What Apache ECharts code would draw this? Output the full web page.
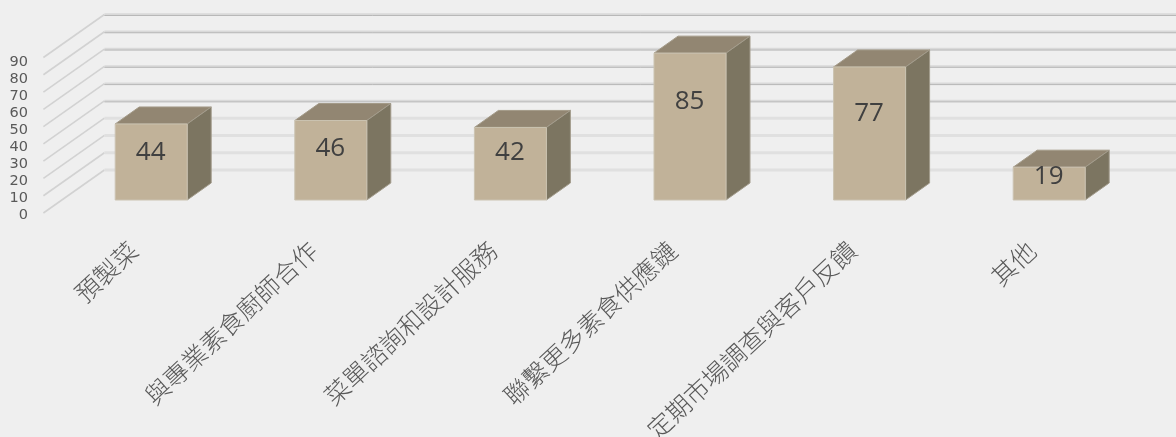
<!DOCTYPE html>
<html>
<head>
<meta charset="utf-8">
<style>html,body{margin:0;padding:0;background:#efefef}#chart{width:1176px;height:437px}</style>
<script src="https://cdn.jsdelivr.net/npm/echarts@6/dist/echarts.min.js"></script>
</head>
<body>
<div id="chart"></div>
<script>
// Category names and survey counts for the 3D column chart
var categories = ['預製菜', '與專業素食廚師合作', '菜單諮詢和設計服務', '聯繫更多素食供應鏈', '定期市場調查與客戶反饋', '其他'];
var values = [44, 46, 42, 85, 77, 19];
var yTicks = [0, 10, 20, 30, 40, 50, 60, 70, 80, 90];

// Pseudo-3D projection, in pixels
var DEPTH = [24, -17];
var WALL_FRONT = [-18, 13];
var WALL_BACK = [43, -30];
var BAR_WIDTH = 72;
var LABEL_RISE = [47, 51, 47, 98, 86, 23];

var chart = echarts.init(document.getElementById('chart'), null, {renderer: 'canvas'});

function renderWall(params, api) {
  var tick = api.value(0);
  var rect = params.coordSys;
  var y = api.coord([0, tick])[1];
  var x0 = rect.x + WALL_FRONT[0], y0 = y + WALL_FRONT[1];
  var x1 = rect.x + WALL_BACK[0], y1 = y + WALL_BACK[1];
  var strong = tick >= 40;
  var w = api.getWidth();
  var children = [
    {type: 'line', shape: {x1: x0, y1: y0, x2: x1, y2: y1},
      style: {stroke: '#d2d2d2', lineWidth: 1.6}},
    {type: 'line', shape: {x1: x1, y1: y1, x2: w, y2: y1},
      style: {stroke: strong ? '#d9d9d9' : '#e0e0e0', lineWidth: strong ? 2.4 : 3}}
  ];
  if (strong) {
    children.push({type: 'line', shape: {x1: x1, y1: y1 + 1, x2: w, y2: y1 + 1},
      style: {stroke: '#b8b8b8', lineWidth: 1}});
  }
  return {type: 'group', children: children};
}

function renderBar(params, api) {
  var i = api.value(0), v = api.value(1);
  var base = api.coord([i, 0]);
  var top = api.coord([i, v]);
  var l = base[0] - BAR_WIDTH / 2, r = base[0] + BAR_WIDTH / 2;
  var dx = DEPTH[0], dy = DEPTH[1];
  return {
    type: 'group',
    children: [
      {type: 'polygon', shape: {points: [[l, top[1]], [l + dx, top[1] + dy], [r + dx, top[1] + dy], [r, top[1]]]},
        style: {fill: '#928672', stroke: '#a39a88', lineWidth: 1}},
      {type: 'polygon', shape: {points: [[r, top[1]], [r + dx, top[1] + dy], [r + dx, base[1] + dy], [r, base[1]]]},
        style: {fill: '#7c7561', stroke: '#a39c8c', lineWidth: 1}},
      {type: 'rect', shape: {x: l, y: top[1], width: BAR_WIDTH, height: base[1] - top[1]},
        style: {fill: '#c1b299', stroke: '#cbc3b1', lineWidth: 1}},
      {type: 'text', style: {
        x: base[0] - 0.5, y: base[1] - LABEL_RISE[i], text: String(v),
        fill: '#404040', font: '26px "Open Sans"', align: 'center', verticalAlign: 'middle'
      }}
    ]
  };
}

chart.setOption({
  backgroundColor: '#efefef',
  animation: false,
  grid: [
    {left: 61.4, width: 1077.6, top: 44.5, height: 155.5, outerBoundsMode: 'none'},
    {left: 43, width: 1077.6, top: 62.3, height: 152.7, outerBoundsMode: 'none'}
  ],
  xAxis: [
    {type: 'category', gridIndex: 0, data: categories,
      axisLine: {show: false}, axisTick: {show: false},
      axisLabel: {rotate: 43, interval: 0, margin: 30, color: '#595959',
        padding: [0, 24, 0, 0],
        fontSize: 25, fontFamily: '"Noto Sans CJK TC"', fontWeight: 300}},
    {type: 'category', gridIndex: 1, data: categories, show: false}
  ],
  yAxis: [
    {type: 'value', gridIndex: 0, min: 0, max: 90, interval: 10, show: false},
    {type: 'value', gridIndex: 1, min: 0, max: 90, interval: 10,
      axisLine: {show: false}, axisTick: {show: false}, splitLine: {show: false},
      axisLabel: {color: '#595959', fontSize: 14.5, fontFamily: '"DejaVu Sans"', margin: 15}}
  ],
  series: [
    {type: 'custom', xAxisIndex: 0, yAxisIndex: 0, clip: false, z: 1,
      data: yTicks.map(function (t) { return [t]; }),
      encode: {y: 0}, renderItem: renderWall, silent: true},
    {type: 'custom', xAxisIndex: 0, yAxisIndex: 0, clip: false, z: 2,
      data: values.map(function (v, i) { return [i, v]; }),
      encode: {x: 0, y: 1}, renderItem: renderBar}
  ]
});
</script>
</body>
</html>
